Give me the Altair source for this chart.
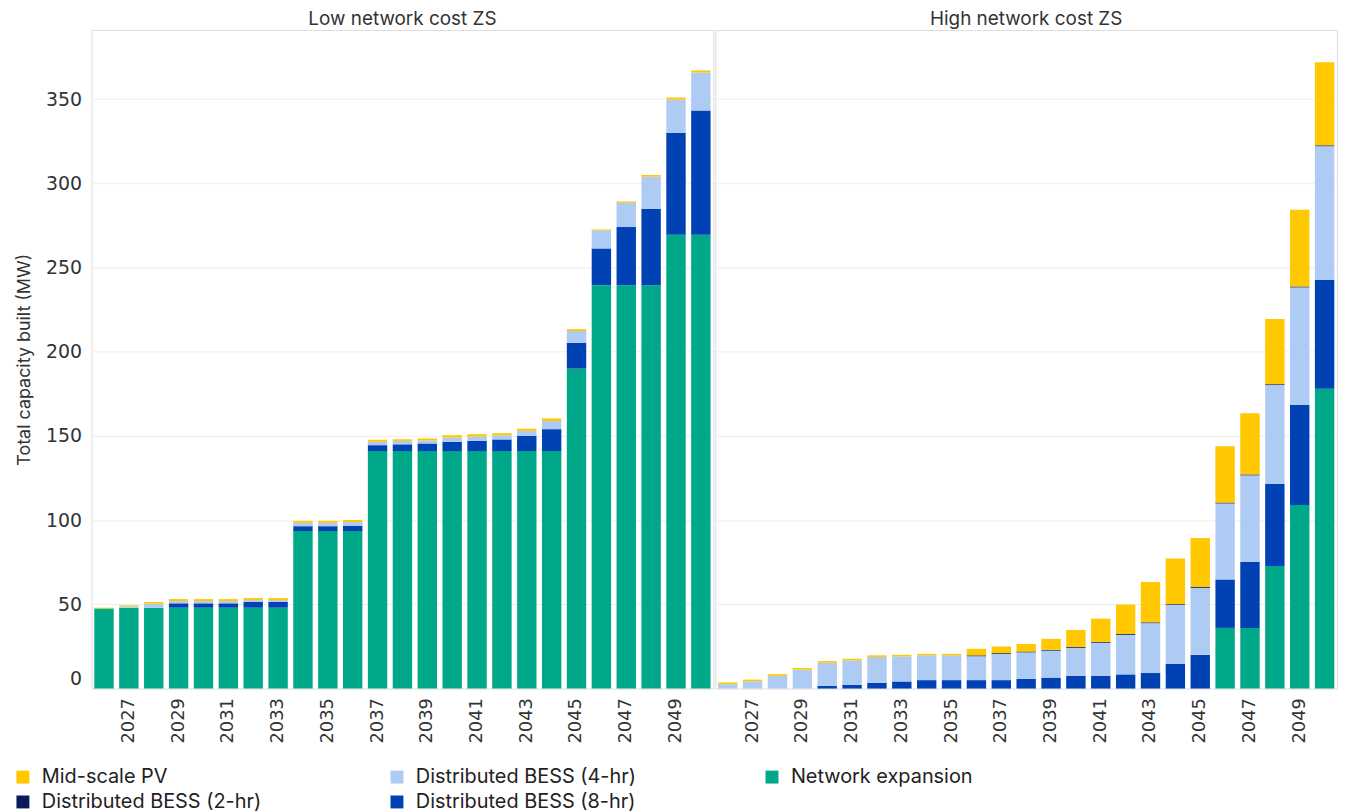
import altair as alt
import pandas as pd

years = list(range(2026, 2051))
scenarios = ["Low network cost ZS", "High network cost ZS"]
series = ["Mid-scale PV", "Distributed BESS (4-hr)", "Network expansion",
          "Distributed BESS (2-hr)", "Distributed BESS (8-hr)"]
colors = ["#FFC800", "#AECBF4", "#00A88A", "#0A1A5C", "#0041B4"]
stack_rank = {"Network expansion": 0, "Distributed BESS (8-hr)": 1,
              "Distributed BESS (4-hr)": 2, "Distributed BESS (2-hr)": 3,
              "Mid-scale PV": 4}

# Low network cost ZS (MW), 2026..2050
low_network = [47.5, 48, 48, 48, 48, 48, 48, 48, 93.5, 93.5, 93.5,
               141, 141, 141, 141, 141, 141, 141, 141, 190,
               239.5, 239.5, 239.5, 269.5, 269.5]
low_bess8 = [0, 0, 0, 2.6, 2.6, 2.6, 3.4, 3.4, 2.9, 2.9, 3.2,
             3.5, 4, 4.5, 5.5, 6, 6.9, 9, 13, 15.3,
             21.8, 34.5, 45.4, 60.5, 73.7]
low_bess4 = [0, 0.8, 2.4, 1.3, 1.3, 1.3, 1.1, 1.1, 2, 2, 2.2,
             2, 2, 1.8, 2.5, 2.6, 2.5, 3, 4.8, 7,
             10.7, 14.4, 19, 19.7, 22.6]
low_bess2 = [0] * 25
low_pv = [0.5, 0.6, 1, 1.2, 1.2, 1.2, 1.2, 1.2, 1.2, 1.2, 1.2,
          1.2, 1, 1.2, 1.4, 1.4, 1.2, 1.3, 1.6, 1.1,
          0.6, 0.8, 1, 1.2, 1.2]

# High network cost ZS (MW), 2026..2050
high_network = [0] * 20 + [36, 36, 72.7, 109, 178]
high_bess8 = [0, 0, 0, 0, 1.6, 2.2, 3.4, 4.2, 5, 5, 5,
              5, 5.7, 6.5, 7.5, 7.6, 8.4, 9.2, 14.7, 20,
              28.8, 39.2, 48.7, 59.4, 64.5]
high_bess4 = [2.6, 4.3, 7.5, 11.2, 13.7, 14.5, 15.3, 14.9, 14.7, 14.7, 14.2,
              15.5, 15.8, 16, 16.6, 19.6, 23.5, 29.6, 34.9, 39.8,
              45.1, 51.4, 58.8, 69.8, 79.5]
high_bess2 = [0] * 10 + [0.5] * 15
high_pv = [1, 1, 1, 1, 1, 1, 1, 0.9, 0.9, 0.9, 3.9,
           4, 4.5, 6.5, 10.2, 13.8, 17.5, 24, 27.1, 29.1,
           33.4, 36.4, 38.7, 45.6, 49.3]

tables = {
    "Low network cost ZS": {
        "Network expansion": low_network,
        "Distributed BESS (8-hr)": low_bess8,
        "Distributed BESS (4-hr)": low_bess4,
        "Distributed BESS (2-hr)": low_bess2,
        "Mid-scale PV": low_pv,
    },
    "High network cost ZS": {
        "Network expansion": high_network,
        "Distributed BESS (8-hr)": high_bess8,
        "Distributed BESS (4-hr)": high_bess4,
        "Distributed BESS (2-hr)": high_bess2,
        "Mid-scale PV": high_pv,
    },
}

rows = []
for sc, d in tables.items():
    for s, vals in d.items():
        for y, v in zip(years, vals):
            rows.append({"scenario": sc, "year": y, "series": s,
                         "value": v, "rank": stack_rank[s]})
df = pd.DataFrame(rows)

FONT = "Inter"
NUMFONT = "DejaVu Sans"
odd_years = [y for y in years if y % 2 == 1]

base = alt.Chart(df).mark_bar().encode(
    x=alt.X("year:O", title=None,
            scale=alt.Scale(paddingInner=0.22, paddingOuter=0.11),
            axis=alt.Axis(values=odd_years, labelAngle=-90, ticks=False,
                          domain=False, labelFontSize=18, labelColor="#333",
                          labelPadding=8, labelFont=NUMFONT)),
    y=alt.Y("value:Q", stack="zero",
            scale=alt.Scale(domain=[0, 391], nice=False),
            axis=alt.Axis(values=[0, 50, 100, 150, 200, 250, 300, 350],
                          title="Total capacity built (MW)", titleFontSize=18,
                          titleFontWeight="normal", titleColor="#333",
                          titleFont=FONT, titlePadding=12,
                          labelFontSize=19, labelColor="#333", labelFont=NUMFONT,
                          labelPadding=9, ticks=False, domain=False,
                          labelFlush=True, labelFlushOffset=0,
                          gridColor="#EEEEEE")),
    color=alt.Color("series:N", scale=alt.Scale(domain=series, range=colors),
                    legend=alt.Legend(title=None, orient="none", columns=3,
                                      legendX=-79, legendY=741,
                                      direction="horizontal",
                                      symbolType="square", symbolSize=169,
                                      symbolStrokeWidth=0, labelOffset=9,
                                      labelFontSize=20, labelFont=FONT,
                                      labelColor="#222", columnPadding=126,
                                      rowPadding=5, labelLimit=400)),
    order=alt.Order("rank:Q", sort="ascending"),
).properties(width=625, height=662)

chart = base.facet(
    column=alt.Column("scenario:N", sort=scenarios, title=None,
                      header=alt.Header(labelFontSize=19, labelColor="#333",
                                        labelFont=FONT, labelPadding=0)),
    spacing=0,
).configure_view(stroke="#DDDDDD").properties(
    padding={"left": 5, "top": 0, "right": 5, "bottom": 0}
).configure(background="white")

chart.save("out.html", embed_options={"renderer": "svg", "actions": False})
